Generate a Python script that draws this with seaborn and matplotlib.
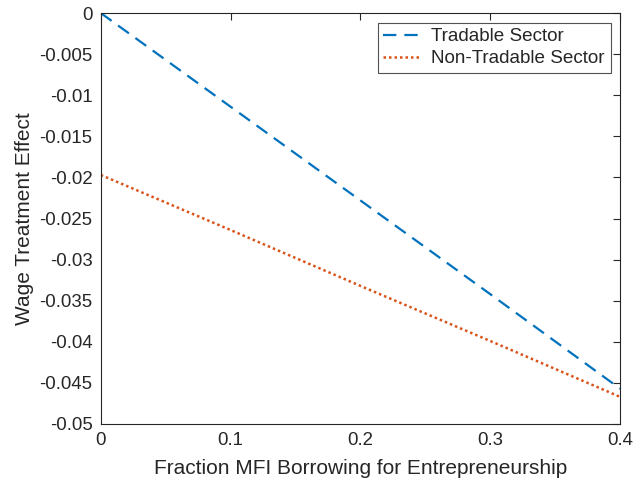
import pandas as pd
import matplotlib.pyplot as plt
import seaborn as sns

# values
frac_mfi = [0.0, 0.1, 0.2, 0.3, 0.4]
tradable = [0.0, -0.0114, -0.0228, -0.0342, -0.0457]
non_tradable = [-0.0197, -0.0264, -0.0332, -0.0399, -0.0467]

x_ticks = [0, 0.1, 0.2, 0.3, 0.4]
x_labels = ['0', '0.1', '0.2', '0.3', '0.4']
y_ticks = [0, -0.005, -0.01, -0.015, -0.02, -0.025, -0.03, -0.035, -0.04, -0.045, -0.05]
y_labels = ['0', '-0.005', '-0.01', '-0.015', '-0.02', '-0.025', '-0.03', '-0.035', '-0.04', '-0.045', '-0.05']

df = pd.DataFrame({'x': frac_mfi, 'trad': tradable, 'nontrad': non_tradable})

sns.set_style('white')
plt.rcParams['font.family'] = ['Liberation Sans', 'DejaVu Sans']
plt.rcParams['axes.unicode_minus'] = False

fig = plt.figure(figsize=(6.34, 4.84), dpi=100)
ax = fig.add_axes([0.159, 0.124, 0.819, 0.849])

sns.lineplot(data=df, x='x', y='trad', ax=ax, color='#0072BD', lw=1.6,
             linestyle=(0, (6, 3.6)), label='Tradable Sector')
sns.lineplot(data=df, x='x', y='nontrad', ax=ax, color='#D95319', lw=1.8,
             linestyle=(0, (1, 1.2)), label='Non-Tradable Sector')

ax.set_xlim(0, 0.4)
ax.set_ylim(-0.05, 0)
ax.set_xticks(x_ticks)
ax.set_xticklabels(x_labels)
ax.set_yticks(y_ticks)
ax.set_yticklabels(y_labels)
ax.tick_params(direction='in', length=5, width=0.8, colors='#262626',
               labelsize=13.4, top=True, right=True, labelcolor='#262626', pad=6)
for s in ax.spines.values():
    s.set_color('#262626')
    s.set_linewidth(0.8)

ax.set_xlabel('Fraction MFI Borrowing for Entrepreneurship', fontsize=15, color='#262626', labelpad=7)
ax.set_ylabel('Wage Treatment Effect', fontsize=15, color='#262626', labelpad=4)

leg = ax.legend(loc='upper right', fontsize=13.6, frameon=True, fancybox=False,
                handlelength=2.0, borderpad=0.3, labelspacing=0.25,
                handletextpad=0.55, borderaxespad=0.5)
leg.get_frame().set_edgecolor('#262626')
leg.get_frame().set_linewidth(0.8)

fig.savefig('out.png', dpi=100)
